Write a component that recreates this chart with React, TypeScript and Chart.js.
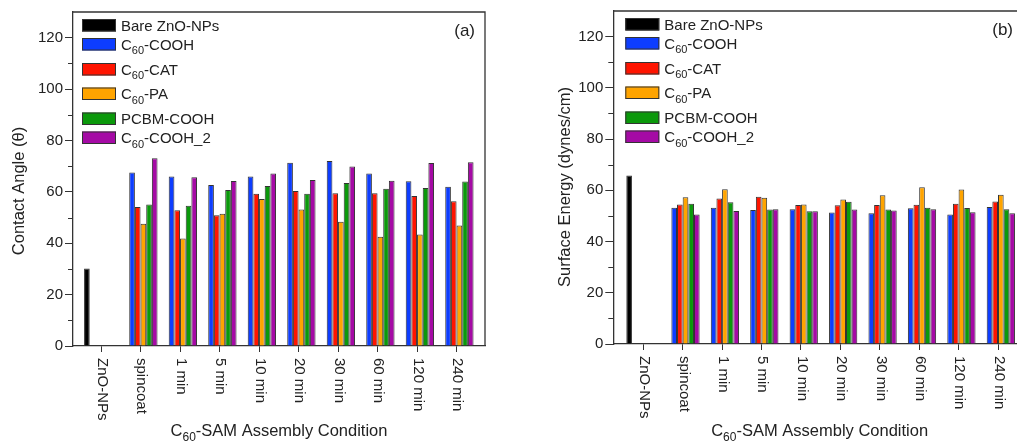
import React, { useEffect, useRef } from 'react';
import { Chart, registerables } from 'chart.js';

Chart.register(...registerables);

const FONT = "'Liberation Sans', Arial, Helvetica, sans-serif";
Chart.defaults.font.family = FONT;

const categories = ['ZnO-NPs', 'spincoat', '1 min', '5 min', '10 min', '20 min', '30 min', '60 min', '120 min', '240 min'];

// Contact angle panel (a)
const caBare = [30.2, null, null, null, null, null, null, null, null, null];
const caCOOH = [null, 67.5, 66.0, 62.7, 66.0, 71.3, 72.0, 67.1, 64.1, 62.0];
const caCAT = [null, 54.1, 52.8, 50.9, 59.3, 60.3, 59.5, 59.5, 58.4, 56.3];
const caPA = [null, 47.6, 41.8, 51.5, 57.2, 53.1, 48.4, 42.5, 43.4, 46.9];
const caPCBM = [null, 55.1, 54.6, 60.7, 62.3, 59.3, 63.4, 61.2, 61.5, 64.0];
const caCOOH2 = [null, 73.1, 65.7, 64.2, 67.1, 64.6, 69.9, 64.3, 71.2, 71.5];

// Surface energy panel (b)
const seBare = [65.8, null, null, null, null, null, null, null, null, null];
const seCOOH = [null, 53.2, 53.2, 52.3, 52.6, 51.3, 51.0, 53.0, 50.6, 53.5];
const seCAT = [null, 54.5, 56.8, 57.5, 54.3, 54.2, 54.3, 54.4, 54.8, 55.6];
const sePA = [null, 57.3, 60.4, 57.1, 54.5, 56.4, 58.1, 61.2, 60.3, 58.3];
const sePCBM = [null, 54.8, 55.3, 52.5, 51.8, 55.5, 52.5, 53.2, 53.1, 52.6];
const seCOOH2 = [null, 50.6, 51.9, 52.6, 51.8, 52.5, 52.1, 52.6, 51.4, 51.0];

const yMax = 130;
const yStep = 10;
const yLabelStep = 20;

// series names: [prefix, subscript, suffix]
const seriesNames: [string, string, string][] = [
  ['Bare ZnO-NPs', '', ''],
  ['C', '60', '-COOH'],
  ['C', '60', '-CAT'],
  ['C', '60', '-PA'],
  ['PCBM-COOH', '', ''],
  ['C', '60', '-COOH_2'],
];
const seriesColors = ['#000000', '#0d3dff', '#ff1400', '#ffa400', '#0b990b', '#a50aa5'];

const xTitleParts: [string, string, string] = ['C', '60', '-SAM Assembly Condition'];

interface PanelCfg {
  left: number;
  width: number;
  chartLeft: number;
  chartRight: number;
  top: number;
  bottom: number;
  xMin: number;
  xMax: number;
  yTitle: string;
  yTitleX: number;
  yTitleY: number;
  panelLabel: string;
  panelLabelRight: number;
  legendLeft: number;
  series: (number | null)[][];
}

const H = 442;

function drawSubText(ctx: CanvasRenderingContext2D, parts: [string, string, string], x: number, baseline: number, size: number, subSize: number, subDrop: number, align: 'left' | 'center') {
  ctx.font = `${size}px ${FONT}`;
  const w1 = ctx.measureText(parts[0]).width;
  const w3 = ctx.measureText(parts[2]).width;
  ctx.font = `${subSize}px ${FONT}`;
  const w2 = parts[1] ? ctx.measureText(parts[1]).width : 0;
  const total = w1 + w2 + w3;
  let cx = align === 'center' ? x - total / 2 : x;
  ctx.textAlign = 'left';
  ctx.textBaseline = 'alphabetic';
  ctx.font = `${size}px ${FONT}`;
  ctx.fillText(parts[0], cx, baseline);
  cx += w1;
  if (parts[1]) {
    ctx.font = `${subSize}px ${FONT}`;
    ctx.fillText(parts[1], cx, baseline + subDrop);
    cx += w2;
  }
  ctx.font = `${size}px ${FONT}`;
  ctx.fillText(parts[2], cx, baseline);
}

function Panel({ cfg }: { cfg: PanelCfg }) {
  const ref = useRef<HTMLCanvasElement>(null);
  useEffect(() => {
    if (!ref.current) return;
    const ink = '#222';
    const overlay = {
      id: 'overlay',
      afterDraw(chart: any) {
        const ctx: CanvasRenderingContext2D = chart.ctx;
        const a = chart.chartArea;
        const xs = chart.scales.x;
        const ys = chart.scales.y;
        ctx.save();
        // frame top & right
        ctx.strokeStyle = '#333';
        ctx.lineWidth = 1.3;
        ctx.beginPath();
        ctx.moveTo(a.left, a.top);
        ctx.lineTo(a.right, a.top);
        ctx.lineTo(a.right, a.bottom);
        ctx.stroke();
        // minor y ticks
        ctx.lineWidth = 1;
        for (let v = yStep; v < yMax; v += yLabelStep) {
          const py = Math.round(ys.getPixelForValue(v)) + 0.5;
          ctx.beginPath();
          ctx.moveTo(a.left - 5, py);
          ctx.lineTo(a.left, py);
          ctx.stroke();
        }
        // x labels rotated
        ctx.fillStyle = ink;
        ctx.font = `15px ${FONT}`;
        categories.forEach((c, i) => {
          const px = xs.getPixelForValue(i);
          ctx.save();
          ctx.translate(px + 1, a.bottom + 12);
          ctx.rotate(Math.PI / 2);
          ctx.textAlign = 'left';
          ctx.textBaseline = 'middle';
          ctx.fillText(c, 0, 0);
          ctx.restore();
        });
        // x title
        drawSubText(ctx, xTitleParts, (a.left + a.right) / 2, 436, 16.5, 12, 5, 'center');
        // y title
        ctx.save();
        ctx.translate(cfg.yTitleX, cfg.yTitleY);
        ctx.rotate(-Math.PI / 2);
        ctx.font = `16.5px ${FONT}`;
        ctx.textAlign = 'center';
        ctx.textBaseline = 'middle';
        ctx.fillText(cfg.yTitle, 0, 0);
        ctx.restore();
        // legend
        const offs = [13, 32, 57, 81.5, 106.5, 125.5];
        seriesNames.forEach((nm, i) => {
          const cy = a.top + offs[i];
          const bx = a.left + cfg.legendLeft;
          ctx.fillStyle = seriesColors[i];
          ctx.fillRect(bx, cy - 6, 34, 12.5);
          ctx.strokeStyle = '#333';
          ctx.lineWidth = 1;
          ctx.strokeRect(bx + 0.5, cy - 6 + 0.5, 33, 11.5);
          ctx.fillStyle = ink;
          drawSubText(ctx, nm, bx + 39, cy + 5.5, 15, 11, 4.5, 'left');
        });
        // panel label
        ctx.font = `17px ${FONT}`;
        ctx.textAlign = 'right';
        ctx.textBaseline = 'middle';
        ctx.fillStyle = ink;
        ctx.fillText(cfg.panelLabel, a.right - cfg.panelLabelRight, a.top + 19);
        ctx.restore();
      },
    };

    const chart = new Chart(ref.current, {
      type: 'bar',
      data: {
        datasets: cfg.series.map((s, k) => ({
          label: seriesNames[k].join(''),
          data: s.map((v, i) => ({ x: i, y: v })) as any,
          backgroundColor: seriesColors[k],
          borderColor: '#333',
          borderWidth: 1,
          categoryPercentage: 0.86,
          barPercentage: 1.0,
        })),
      },
      options: {
        responsive: false,
        animation: false,
        devicePixelRatio: 1,
        layout: { padding: { left: 0, right: cfg.width - cfg.chartRight, top: cfg.top, bottom: 0 } },
        plugins: { legend: { display: false }, tooltip: { enabled: false }, title: { display: false } },
        scales: {
          x: {
            type: 'linear',
            offset: false,
            min: cfg.xMin,
            max: cfg.xMax,
            afterBuildTicks: (scale: any) => {
              scale.ticks = categories.map((_, i) => ({ value: i }));
            },
            afterFit: (scale: any) => {
              scale.height = H - cfg.bottom;
            },
            ticks: { display: false },
            grid: { offset: false, drawOnChartArea: false, drawTicks: true, tickLength: 6, tickColor: '#333', tickWidth: 1 },
            border: { display: true, color: '#333', width: 1.3 },
          },
          y: {
            type: 'linear',
            min: 0,
            max: yMax,
            afterFit: (scale: any) => {
              scale.width = cfg.chartLeft;
            },
            ticks: {
              stepSize: yStep,
              padding: 2,
              color: ink,
              font: { size: 15, family: FONT },
              callback: (v: any) => (Number(v) % yLabelStep === 0 ? String(v) : ''),
            },
            grid: {
              drawOnChartArea: false,
              drawTicks: true,
              tickLength: 8,
              tickWidth: 1,
              tickColor: (c: any) => (c.tick && c.tick.value % yLabelStep === 0 ? '#333' : 'rgba(0,0,0,0)'),
            },
            border: { display: true, color: '#333', width: 1.3 },
          },
        },
      },
      plugins: [overlay],
    });
    return () => chart.destroy();
  }, [cfg]);
  return (
    <canvas
      ref={ref}
      width={cfg.width}
      height={H}
      style={{ position: 'absolute', left: cfg.left, top: 0, width: cfg.width, height: H }}
    />
  );
}

const leftCfg: PanelCfg = {
  left: 0,
  width: 508,
  chartLeft: 73,
  chartRight: 485,
  top: 12,
  bottom: 346,
  xMin: -0.71,
  xMax: 9.72,
  yTitle: 'Contact Angle (θ)',
  yTitleX: 19,
  yTitleY: 191,
  panelLabel: '(a)',
  panelLabelRight: 10,
  legendLeft: 9,
  series: [caBare, caCOOH, caCAT, caPA, caPCBM, caCOOH2],
};

const rightCfg: PanelCfg = {
  left: 508,
  width: 540,
  chartLeft: 105.3,
  chartRight: 518,
  top: 11,
  bottom: 344,
  xMin: -0.76,
  xMax: 9.71,
  yTitle: 'Surface Energy (dynes/cm)',
  yTitleX: 57,
  yTitleY: 187,
  panelLabel: '(b)',
  panelLabelRight: 13,
  legendLeft: 12,
  series: [seBare, seCOOH, seCAT, sePA, sePCBM, seCOOH2],
};

export default function App() {
  return (
    <div style={{ position: 'fixed', left: 0, top: 0, width: 1017, height: H, overflow: 'hidden', background: '#fff' }}>
      <Panel cfg={leftCfg} />
      <Panel cfg={rightCfg} />
    </div>
  );
}
